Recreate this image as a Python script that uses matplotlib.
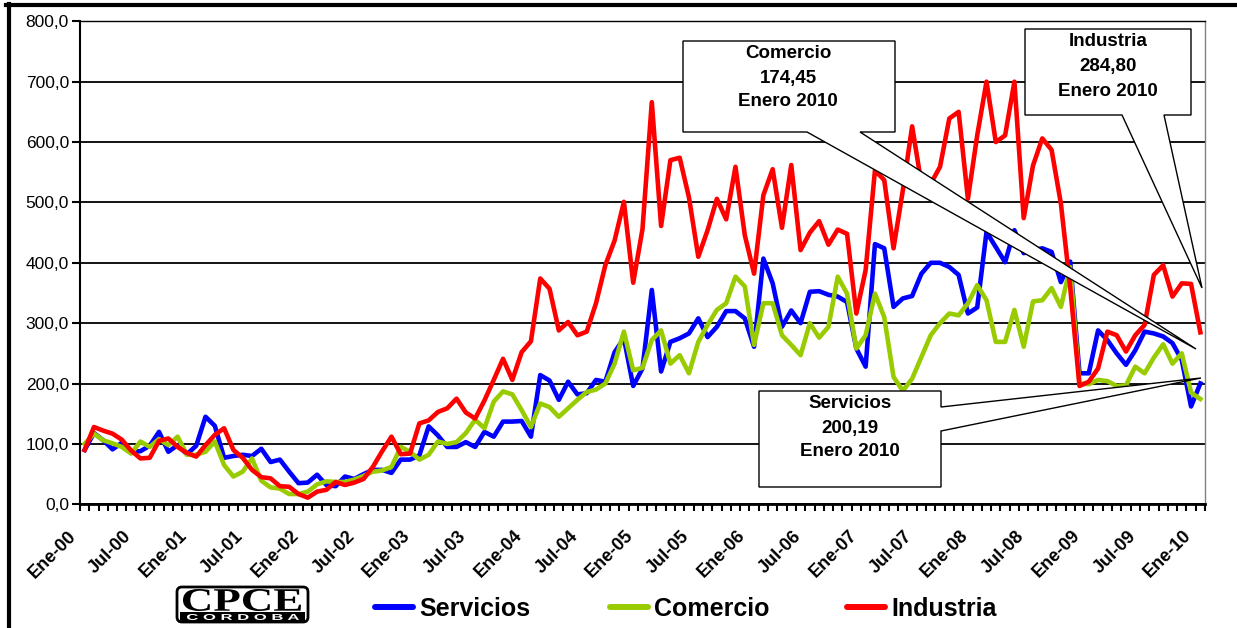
import numpy as np
import matplotlib
matplotlib.use("Agg")
import matplotlib.pyplot as plt
import matplotlib.transforms as mtransforms
from matplotlib.lines import Line2D
from matplotlib.patches import Polygon, FancyBboxPatch, Rectangle, PathPatch
from matplotlib.textpath import TextPath
from matplotlib.font_manager import FontProperties

plt.rcParams['font.family'] = ['Liberation Sans', 'DejaVu Sans']

# indices mensuales, Ene-00 .. Ene-10
servicios = [90, 118, 106, 91, 102, 87, 88, 97, 120, 87, 98, 83, 97, 145, 130, 77, 80, 82, 80, 92,
             70, 74, 54, 35, 36, 49, 32, 30, 46, 42, 50, 57, 57, 52, 74, 74, 81, 129, 114, 95,
             95, 103, 95, 120, 112, 137, 137, 138, 112, 214, 205, 173, 203, 182, 184, 206, 203, 252, 275, 196,
             225, 355, 220, 269, 275, 283, 308, 277, 294, 320, 320, 308, 261, 407, 366, 294, 321, 300, 352, 353,
             347, 344, 335, 258, 228, 431, 424, 327, 341, 345, 382, 400, 400, 393, 380, 316, 326, 451, 426, 401,
             454, 416, 421, 424, 418, 368, 402, 217, 217, 288, 272, 250, 231, 255, 286, 283, 278, 267, 239, 162,
             200.19]
comercio = [100, 117, 106, 101, 95, 84, 104, 95, 108, 98, 112, 82, 82, 87, 104, 65, 46, 54, 76, 39,
            28, 26, 17, 17, 21, 33, 38, 37, 37, 41, 47, 54, 56, 62, 95, 87, 74, 82, 104, 100,
            103, 118, 140, 126, 170, 187, 182, 156, 128, 167, 161, 145, 159, 173, 186, 190, 200, 233, 286, 222,
            226, 272, 288, 233, 247, 217, 269, 297, 322, 333, 377, 361, 264, 333, 333, 280, 264, 247, 300, 276,
            294, 377, 349, 258, 280, 349, 310, 211, 188, 208, 244, 280, 300, 316, 313, 333, 363, 338, 269, 269,
            322, 261, 336, 338, 358, 327, 393, 200, 199, 206, 204, 196, 197, 228, 217, 243, 265, 233, 250, 185,
            174.45]
industria = [90, 128, 122, 117, 107, 89, 76, 77, 105, 109, 95, 85, 79, 98, 115, 126, 90, 77, 57, 45,
             43, 30, 29, 17, 11, 21, 24, 37, 32, 36, 42, 62, 88, 112, 83, 84, 134, 139, 153, 159,
             175, 152, 142, 172, 206, 241, 206, 252, 270, 374, 357, 288, 302, 280, 286, 333, 396, 437, 501, 367,
             456, 666, 461, 570, 574, 508, 410, 454, 506, 472, 559, 446, 382, 512, 555, 458, 562, 421, 450, 469,
             430, 455, 448, 316, 388, 553, 537, 424, 520, 626, 531, 531, 559, 639, 650, 506, 611, 700, 600, 611,
             700, 474, 561, 606, 587, 498, 360, 196, 203, 225, 286, 280, 253, 280, 297, 380, 396, 344, 366, 365,
             284.80]

etiquetas_x = ["Ene-00", "Jul-00", "Ene-01", "Jul-01", "Ene-02", "Jul-02", "Ene-03", "Jul-03",
               "Ene-04", "Jul-04", "Ene-05", "Jul-05", "Ene-06", "Jul-06", "Ene-07", "Jul-07",
               "Ene-08", "Jul-08", "Ene-09", "Jul-09", "Ene-10"]
y_ticks = [0, 100, 200, 300, 400, 500, 600, 700, 800]

W, H = 1237, 628
fig = plt.figure(figsize=(W / 100, H / 100), dpi=100)
ax = fig.add_axes([80 / W, 1 - 504.3 / H, 1125 / W, (504.3 - 21.3) / H])

# pixel coords, origin top-left
tr_px = mtransforms.Affine2D().scale(1 / W, -1 / H).translate(0, 1) + fig.transFigure

x = np.arange(len(servicios))
ax.plot(x, servicios, color='#0000FF', lw=3.3, solid_joinstyle='round', zorder=3)
ax.plot(x, comercio, color='#99CC00', lw=3.3, solid_joinstyle='round', zorder=3)
ax.plot(x, industria, color='#FF0000', lw=3.3, solid_joinstyle='round', zorder=3)

ax.set_xlim(-0.5, len(x) - 0.5)
ax.set_ylim(0, 800)
ax.set_yticks(y_ticks)
ax.set_yticklabels([f"{v:.1f}".replace('.', ',') for v in y_ticks], fontsize=12.5)
ax.yaxis.grid(True, color='black', lw=1.3)
ax.set_axisbelow(True)
ax.tick_params(axis='y', length=6, width=1.5, pad=2)

ax.set_xticks(np.arange(0, len(x), 6))
ax.set_xticklabels(etiquetas_x, rotation=45, ha='right', va='center',
                   rotation_mode='anchor', fontweight='bold', fontsize=13)
ax.set_xticks(np.arange(-0.5, len(x)), minor=True)
ax.tick_params(axis='x', which='major', length=0, pad=0)
ax.tick_params(axis='x', which='minor', length=5, width=1.5)
off = mtransforms.ScaledTranslation(-0.115, -0.29, fig.dpi_scale_trans)
for lab in ax.get_xticklabels():
    lab.set_transform(lab.get_transform() + off)

ax.spines['left'].set_linewidth(1.5)
ax.spines['bottom'].set_linewidth(2)
ax.spines['top'].set_linewidth(1)
ax.spines['right'].set_linewidth(1)
ax.spines['right'].set_color('#808080')

# marco exterior
fig.add_artist(Line2D([6, 1240], [5, 5], transform=tr_px, color='black', lw=3))
fig.add_artist(Line2D([8.5, 8.5], [4, 640], transform=tr_px, color='black', lw=3))


def llamada(puntos, lineas, cx, ys):
    fig.add_artist(Polygon(puntos, closed=True, fc='white', ec='black', lw=1,
                           transform=tr_px, zorder=5))
    for t, yy in zip(lineas, ys):
        fig.text(cx / W, 1 - yy / H, t, ha='center', va='center', fontsize=13.5,
                 fontweight='bold', zorder=6)


def fmt(v):
    return f"{v:.2f}".replace('.', ',')


llamada([(683, 41), (895, 41), (895, 132), (860, 132), (1196, 349), (807, 132), (683, 132)],
        ["Comercio", fmt(comercio[-1]), "Enero 2010"], 788, [54, 78, 102])
llamada([(1025, 29), (1191, 29), (1191, 115), (1164, 115), (1202, 288), (1122, 115), (1025, 115)],
        ["Industria", fmt(industria[-1]), "Enero 2010"], 1108, [42, 67, 91])
llamada([(759, 391), (941, 391), (941, 407), (1201, 378), (941, 431), (941, 487), (759, 487)],
        ["Servicios", fmt(servicios[-1]), "Enero 2010"], 850, [404, 428, 452])

# leyenda
for x0, col, nombre in [(375, '#0000FF', 'Servicios'), (610, '#99CC00', 'Comercio'),
                        (847, '#FF0000', 'Industria')]:
    fig.add_artist(Line2D([x0, x0 + 38], [607, 607], transform=tr_px, color=col,
                          lw=4.3, solid_capstyle='round'))
    fig.text((x0 + 44) / W, 1 - 609 / H, nombre, ha='left', va='center',
             fontsize=18, fontweight='bold')


# logo CPCE
def texto_ajustado(s, x0, y0, x1, y1, fp, color):
    tp = TextPath((0, 0), s, size=10, prop=fp)
    bb = tp.get_extents()
    tr = (mtransforms.Affine2D().translate(-bb.x0, -bb.y0)
          .scale((x1 - x0) / bb.width, (y1 - y0) / bb.height)
          .translate(x0, H - y1)
          + mtransforms.Affine2D().scale(1 / W, 1 / H) + fig.transFigure)
    fig.add_artist(PathPatch(tp, transform=tr, fc=color, ec='none', zorder=6))


fig.add_artist(FancyBboxPatch((177, 587), 131, 35, boxstyle='round,pad=0,rounding_size=5',
                              fc='white', ec='black', lw=2, transform=tr_px, zorder=5))
fig.add_artist(Rectangle((180, 612), 125, 9, fc='black', ec='none', transform=tr_px, zorder=5))
texto_ajustado("CPCE", 183, 589, 301, 611, FontProperties(family='Liberation Serif', weight='bold'), 'black')
texto_ajustado("C O R D O B A", 187, 614, 299, 620, FontProperties(family='Liberation Sans', weight='bold'), 'white')

fig.savefig("out.png", dpi=100)
